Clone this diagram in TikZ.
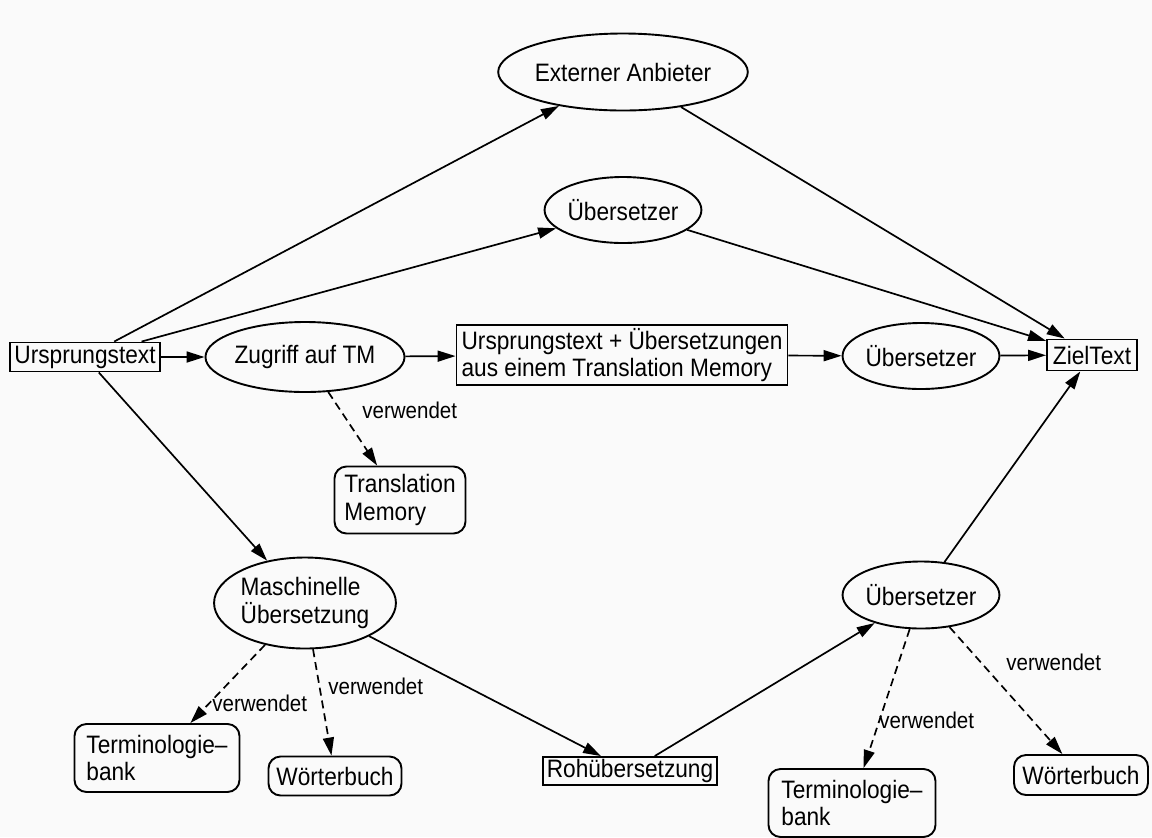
\documentclass[tikz,border=0pt]{standalone}
\usepackage{fontspec}
\setmainfont[FakeStretch=0.9]{Liberation Sans}
\usetikzlibrary{shapes.geometric,arrows.meta}
\begin{document}
\begin{tikzpicture}[x=0.5pt,y=-0.5pt,
  every node/.style={font=\fontsize{12.6}{13.8}\selectfont, inner sep=0pt, align=left},
  ell/.style={draw, ellipse, line width=0.95pt},
  bx/.style={draw, rectangle, line width=0.95pt},
  rbx/.style={draw, rectangle, rounded corners=6pt, line width=0.95pt},
  lbl/.style={font=\fontsize{11.4}{12}\selectfont, anchor=west},
  arr/.style={line width=0.85pt, -{Triangle[length=9pt,width=5.5pt]}},
  darr/.style={arr, dash pattern=on 4pt off 2.5pt}]
\fill[gray!4] (0,0) rectangle (1152,837);
\useasboundingbox (0,0) rectangle (1152,837);

% nodes
\node[bx, minimum width=75pt, minimum height=14.5pt] (u) at (85,357) {Ursprungstext};
\node[ell, minimum width=83pt, minimum height=35pt] (z) at (305,357) {Zugriff auf TM};
\node[bx, minimum width=165.5pt, minimum height=30pt] (b) at (622,355) {Ursprungstext + Übersetzungen\\aus einem Translation Memory};
\node[ell, minimum width=69.5pt, minimum height=33pt] (s2) at (921,356) {Übersetzer};
\node[bx, minimum width=45pt, minimum height=15.5pt] (zt) at (1092,355) {ZielText};
\node[ell, minimum width=101pt, minimum height=38.5pt] (ext) at (623,72) {Externer Anbieter};
\node[ell, minimum width=69pt, minimum height=33pt] (s1) at (623,210) {Übersetzer};
\node[rbx, minimum width=65.5pt, minimum height=33.5pt] (tm) at (400,500) {Translation\\Memory};
\node[ell, minimum width=85.5pt, minimum height=45.5pt] (mt) at (305,603) {Maschinelle\\Übersetzung};
\node[rbx, minimum width=82.5pt, minimum height=34pt] (t1) at (157,758) {Terminologie\textendash\\bank};
\node[rbx, minimum width=66.5pt, minimum height=19.5pt] (w1) at (335,776) {Wörterbuch};
\node[bx, minimum width=87pt, minimum height=14pt] (roh) at (630,771) {Rohübersetzung};
\node[ell, minimum width=70pt, minimum height=33.5pt] (s3) at (921,595) {Übersetzer};
\node[rbx, minimum width=83.5pt, minimum height=34pt] (t2) at (852,803) {Terminologie\textendash\\bank};
\node[rbx, minimum width=67pt, minimum height=20pt] (w2) at (1081,775) {Wörterbuch};

% edge labels
\node[lbl] (lz) at (362,410) {verwendet};
\node[lbl] (lt1) at (212,703) {verwendet};
\node[lbl] (lw1) at (328,686) {verwendet};
\node[lbl] (lt2) at (879,720) {verwendet};
\node[lbl] (lw2) at (1006,662) {verwendet};

% solid connectors
\draw[arr] (u) -- (ext);
\draw[arr] (u) -- (s1);
\draw[arr] (u) -- (z);
\draw[arr] (u) -- (mt);
\draw[arr] (z) -- (b);
\draw[arr] (b) -- (s2);
\draw[arr] (s2) -- (zt);
\draw[arr] (ext) -- (zt);
\draw[arr] (s1) -- (zt);
\draw[arr] (mt) -- (roh);
\draw[arr] (roh) -- (s3);
\draw[arr] (s3) -- (zt);

% dashed connectors
\draw[darr] (z) -- (tm);
\draw[darr] (mt) -- (t1);
\draw[darr] (mt) -- (w1);
\draw[darr] (s3) -- (t2);
\draw[darr] (s3) -- (w2);
\end{tikzpicture}
\end{document}
